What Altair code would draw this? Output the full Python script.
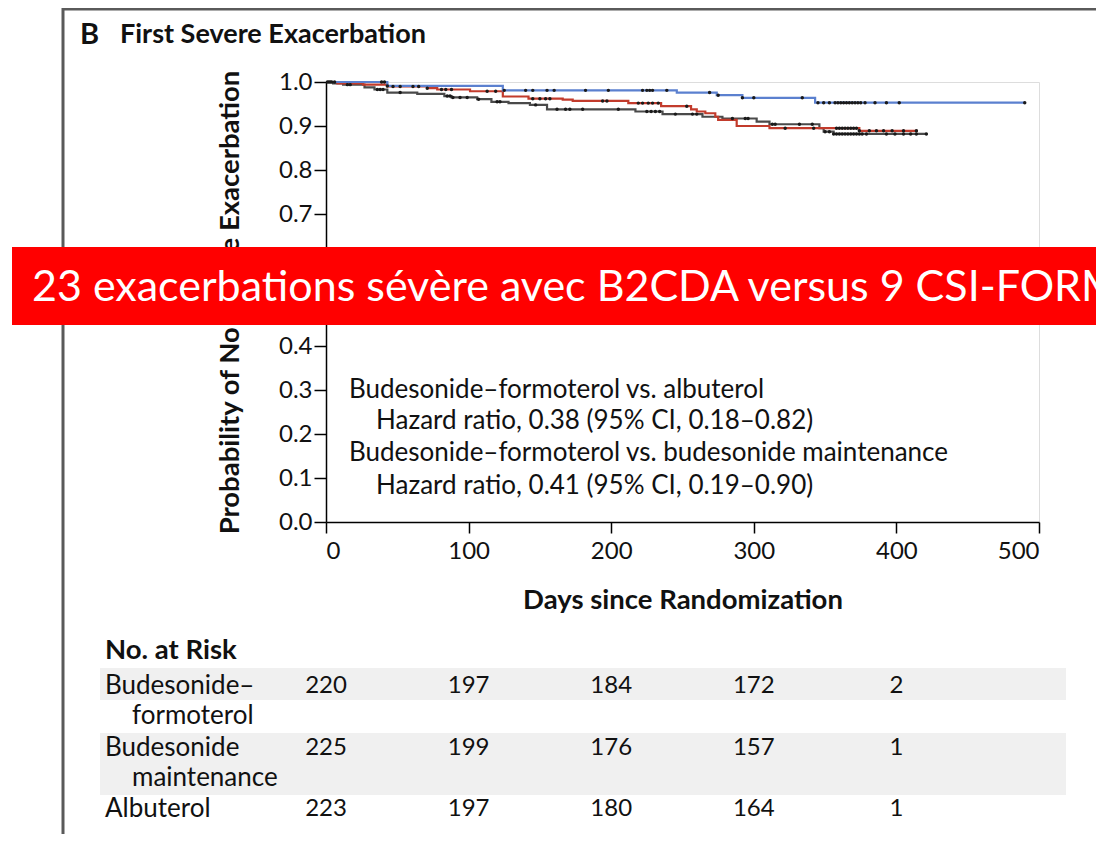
import altair as alt
import pandas as pd

FONT = "Lato"
BANNER_FONT = "Lato"

# ---------------- data ----------------
groups = ["Albuterol", "Budesonide maintenance", "Budesonide–formoterol"]
colors = ["#4a4a4a", "#c23b2c", "#5b80cf"]

# Kaplan-Meier step curves (day of drop, survival after drop)
alb_days = [0, 5, 12, 27, 34, 43, 64, 83, 88, 106, 116, 128, 143, 155, 217, 236, 264, 278, 302, 311, 346, 349, 356, 421]
alb_surv = [1.0, 0.997, 0.994, 0.988, 0.983, 0.976, 0.973, 0.968, 0.965, 0.961, 0.955, 0.952, 0.948, 0.938, 0.933, 0.927, 0.921, 0.917, 0.910, 0.904, 0.895, 0.887, 0.882, 0.882]

bud_days = [0, 8, 26, 43, 71, 78, 101, 124, 142, 166, 173, 212, 235, 256, 260, 266, 273, 275, 288, 311, 374, 415]
bud_surv = [1.0, 0.997, 0.994, 0.990, 0.986, 0.983, 0.979, 0.967, 0.962, 0.960, 0.957, 0.952, 0.945, 0.938, 0.933, 0.929, 0.921, 0.914, 0.900, 0.895, 0.889, 0.889]

bf_days = [0, 43, 124, 246, 274, 292, 343, 490]
bf_surv = [1.0, 0.991, 0.981, 0.976, 0.970, 0.964, 0.953, 0.953]

# censoring marks (days)
alb_cens = [2, 4, 15, 17, 36, 38, 40, 52, 85, 87, 89, 94, 99, 107, 120, 122, 147, 162, 168, 171, 180, 205,
            225, 228, 231, 234, 245, 257, 260, 285, 294, 296, 313, 315, 332, 341, 350, 353, 356, 358, 360,
            362, 364, 366, 368, 370, 372, 374, 376, 379, 393, 399, 405, 410, 414, 421]
bud_cens = [1, 3, 6, 47, 52, 61, 65, 71, 81, 84, 88, 113, 119, 145, 150, 154, 157, 194, 197, 219, 222,
            226, 229, 233, 253, 322, 342, 358, 360, 362, 364, 366, 368, 370, 372, 374, 381, 386, 391,
            397, 405, 414]
bf_cens = [39, 41, 43, 125, 140, 145, 155, 160, 182, 198, 222, 225, 227, 229, 239, 269, 275, 292, 300,
           334, 345, 349, 353, 357, 359, 361, 363, 365, 367, 369, 371, 373, 375, 378, 385, 393, 402, 490]

# number at risk table
risk_days = [0, 100, 200, 300, 400]
risk_bf = [220, 197, 184, 172, 2]
risk_bud = [225, 199, 176, 157, 1]
risk_alb = [223, 197, 180, 164, 1]

y_ticks = [0.0, 0.1, 0.2, 0.3, 0.4, 0.5, 0.6, 0.7, 0.8, 0.9, 1.0]
x_ticks = [0, 100, 200, 300, 400, 500]


def surv_at(days, surv, t):
    s = surv[0]
    for d, v in zip(days, surv):
        if d <= t:
            s = v
    return s


curves = [(groups[0], alb_days, alb_surv, alb_cens),
          (groups[1], bud_days, bud_surv, bud_cens),
          (groups[2], bf_days, bf_surv, bf_cens)]

km_rows, cens_rows = [], []
for g, d, s, c in curves:
    for i, (dd, ss) in enumerate(zip(d, s)):
        km_rows.append({"group": g, "day": dd, "surv": ss, "i": i})
    for t in c:
        cens_rows.append({"group": g, "day": t, "surv": surv_at(d, s, t)})
km_df = pd.DataFrame(km_rows)
cens_df = pd.DataFrame(cens_rows)

risk_rows = []
for r, vals in enumerate([risk_bf, risk_bud, risk_alb]):
    for dd, n in zip(risk_days, vals):
        risk_rows.append({"row": r, "day": dd, "n": str(n)})
risk_df = pd.DataFrame(risk_rows)

one = pd.DataFrame({"k": [0]})

REG = 26     # running text
NUM = 24     # numbers / tick labels
BOLD = 27.5  # bold titles

# ---------------- encodings ----------------
xenc = alt.X("day:Q", scale=alt.Scale(domain=[0, 500], nice=False, zero=False),
             axis=alt.Axis(values=x_ticks, format="d", title="Days since Randomization",
                           grid=False, tickSize=11, tickColor="black", domainColor="black",
                           domainWidth=1.5, tickWidth=1.5, labelFontSize=NUM, labelFont=FONT,
                           labelColor="#111", labelPadding=6, titleFont=FONT, titleFontSize=BOLD,
                           titleFontWeight="bold", titleColor="#111", titlePadding=23))
yenc = alt.Y("surv:Q", scale=alt.Scale(domain=[0, 1], nice=False, zero=False),
             axis=alt.Axis(values=y_ticks, format=".1f", title="Probability of No Severe Exacerbation",
                           grid=False, tickSize=12, tickColor="black", domainColor="black",
                           domainWidth=1.5, tickWidth=1.5, labelFontSize=NUM, labelFont=FONT,
                           labelColor="#111", labelPadding=2, titleFont=FONT, titleFontSize=BOLD,
                           titleFontWeight="bold", titleColor="#111", titlePadding=34))

color = alt.Color("group:N", scale=alt.Scale(domain=groups, range=colors), legend=None)

lines = alt.Chart(km_df).mark_line(interpolate="step-after", strokeWidth=2.2).encode(
    x=xenc, y=yenc, color=color, detail="group:N", order="i:Q")

cens = alt.Chart(cens_df).mark_point(filled=True, size=12, color="#1a1a1a", opacity=1).encode(
    x=xenc, y=yenc)


def txt(s, x, y, size=REG, weight="normal", color="#111", align="left", font=FONT):
    return alt.Chart(one).mark_text(text=s, font=font, fontSize=size, fontWeight=weight,
                                    color=color, align=align, baseline="middle").encode(
        x=alt.value(x), y=alt.value(y))


def rect(x1, x2, y1, y2, color):
    return alt.Chart(one).mark_rect(color=color).encode(
        x=alt.value(x1), x2=alt.value(x2), y=alt.value(y1), y2=alt.value(y2))


def vrule(x, y1, y2, color="#5a5a5a", w=3):
    return alt.Chart(one).mark_rule(color=color, strokeWidth=w).encode(
        x=alt.value(x), y=alt.value(y1), y2=alt.value(y2))


def hrule(y, x1, x2, color="#5a5a5a", w=3):
    return alt.Chart(one).mark_rule(color=color, strokeWidth=w).encode(
        y=alt.value(y), x=alt.value(x1), x2=alt.value(x2))


# frame
frame = [vrule(-263, -74, 760), vrule(774, -74, 760), hrule(-73, -263, 774)]

# title
title = [txt("B", -246, -47, size=29, weight="bold"),
         txt("First Severe Exacerbation", -206, -47, size=BOLD - 0.5, weight="bold")]

# annotation
ann = [txt("Budesonide–formoterol vs. albuterol", 23, 308),
       txt("Hazard ratio, 0.38 (95% CI, 0.18–0.82)", 50, 339),
       txt("Budesonide–formoterol vs. budesonide maintenance", 23, 371),
       txt("Hazard ratio, 0.41 (95% CI, 0.19–0.90)", 50, 404)]

# table
bands = [rect(-226, 740, 586, 618, "#f0f0f0"), rect(-226, 740, 651, 713, "#f0f0f0")]
table_text = [txt("No. at Risk", -221, 569, size=BOLD, weight="bold"),
              txt("Budesonide–", -221, 604), txt("formoterol", -194, 634),
              txt("Budesonide", -221, 666), txt("maintenance", -194, 696),
              txt("Albuterol", -221, 727)]
row_y = [604, 666, 727]
nums = [alt.Chart(risk_df).transform_filter(alt.datum.row == r).mark_text(
    font=FONT, fontSize=NUM, color="#111", align="center", baseline="middle").encode(
    x=xenc, y=alt.value(yv), text="n:N") for r, yv in enumerate(row_y)]

# banner
banner = [rect(-314, 786, 165, 243, "#ff0000"),
          txt("23 exacerbations sévère avec B2CDA versus 9 CSI-FORM", -294, 206, size=43,
              color="white", font=BANNER_FONT)]

chart = alt.layer(*bands, *frame, *title, *table_text, *nums, lines, cens, *ann, *banner).properties(
    width=713, height=440,
    autosize=alt.AutoSizeParams(type="none"),
    padding={"left": 318, "top": 74, "right": 57, "bottom": 312},
).configure_view(stroke=None).configure(background="white")

chart.save("out.html", embed_options={"renderer": "svg", "actions": False})
